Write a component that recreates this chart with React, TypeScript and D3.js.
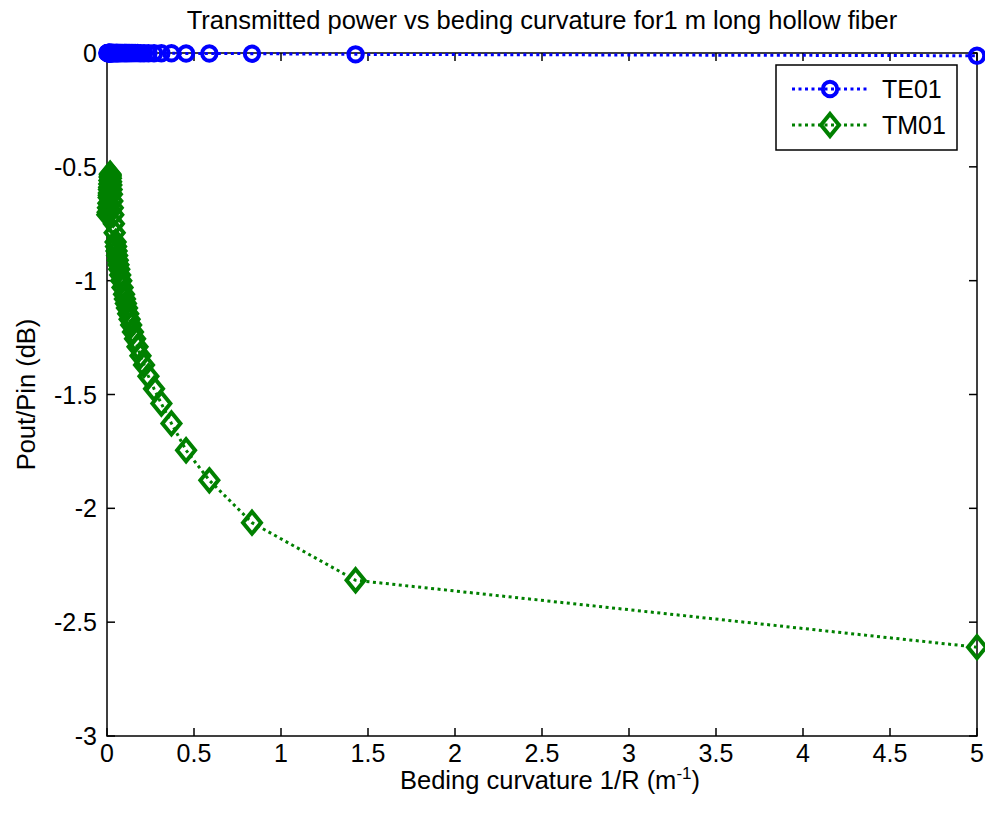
import React from "react";
import * as d3 from "d3";

const curvature = [
  0.002, 0.004, 0.006, 0.008, 0.01, 0.0105, 0.0111, 0.0117, 0.0125, 0.0133,
  0.0142, 0.0153, 0.0166, 0.0181, 0.0199, 0.021, 0.0221, 0.0234, 0.0249, 0.0265,
  0.0284, 0.0306, 0.0331, 0.0361, 0.0397, 0.0441, 0.0495, 0.0521, 0.0549, 0.0581,
  0.0617, 0.0658, 0.0704, 0.0758, 0.082, 0.0893, 0.098, 0.1031, 0.1087, 0.1149,
  0.122, 0.1299, 0.1389, 0.1493, 0.1613, 0.1754, 0.1923, 0.2128, 0.2381, 0.2703,
  0.3125, 0.3704, 0.4545, 0.5882, 0.8333, 1.4286, 5,
];

const te01 = [
  0, 0, 0, 0, 0, 0, 0, 0, 0, 0,
  0, 0, 0, 0, 0, 0, 0, 0, 0, 0,
  0, 0, 0, 0, 0, 0, 0, 0, 0, 0,
  0, 0, 0, 0, 0, 0, 0, 0, 0, 0,
  0, 0, 0, 0, 0, 0, -0.001, -0.001, -0.001, -0.001,
  -0.001, -0.001, -0.002, -0.002, -0.003, -0.006, -0.012,
];

const tm01 = [
  -0.71, -0.7, -0.68, -0.66, -0.635, -0.625, -0.615, -0.6, -0.59, -0.575,
  -0.56, -0.545, -0.535, -0.53, -0.535, -0.54, -0.55, -0.565, -0.58, -0.6,
  -0.62, -0.65, -0.68, -0.71, -0.75, -0.79, -0.83, -0.85, -0.87, -0.89,
  -0.91, -0.93, -0.95, -0.975, -1.0, -1.03, -1.06, -1.08, -1.1, -1.12,
  -1.145, -1.17, -1.195, -1.225, -1.255, -1.29, -1.33, -1.37, -1.42, -1.475,
  -1.54, -1.627, -1.745, -1.877, -2.063, -2.316, -2.61,
];

const xTicks = [0, 0.5, 1, 1.5, 2, 2.5, 3, 3.5, 4, 4.5, 5];
const yTicks = [0, -0.5, -1, -1.5, -2, -2.5, -3];
const seriesNames = ["TE01", "TM01"];
const title = "Transmitted power vs beding curvature for1  m long hollow fiber";

const W = 985;
const H = 819;
const L = 107;
const R = 977;
const T = 53;
const B = 736;
const FONT = "'Liberation Sans', Arial, Helvetica, sans-serif";
const BLUE = "#0000ff";
const GREEN = "#008000";

function Diamond({ cx, cy, color }: { cx: number; cy: number; color: string }) {
  const w = 9, h = 11;
  return (
    <path
      d={`M${cx},${cy - h}L${cx + w},${cy}L${cx},${cy + h}L${cx - w},${cy}Z`}
      fill="none"
      stroke={color}
      strokeWidth={4}
    />
  );
}

function Circle({ cx, cy, color }: { cx: number; cy: number; color: string }) {
  return <circle cx={cx} cy={cy} r={7.2} fill="none" stroke={color} strokeWidth={4} />;
}

export default function App() {
  const x = d3.scaleLinear().domain([0, 5]).range([L, R]);
  const y = d3.scaleLinear().domain([-3, 0]).range([B, T]);
  const line = d3
    .line<number>()
    .x((_, i) => x(curvature[i]))
    .y((d) => y(d));
  const fmt = (v: number) => String(v);
  const tickLen = 8;

  return (
    <svg
      width={W}
      height={H}
      style={{ position: "absolute", left: 0, top: 0, background: "#fff" }}
      fontFamily={FONT}
    >
      <rect x={0} y={0} width={W} height={H} fill="#fff" />
      <rect x={L} y={T} width={R - L} height={B - T} fill="none" stroke="#000" strokeWidth={1.5} />
      {xTicks.map((t) => (
        <g key={"x" + t}>
          <line x1={x(t)} x2={x(t)} y1={B} y2={B - tickLen} stroke="#000" strokeWidth={1.5} />
          <line x1={x(t)} x2={x(t)} y1={T} y2={T + tickLen} stroke="#000" strokeWidth={1.5} />
          <text x={x(t)} y={762} textAnchor="middle" fontSize={25} fill="#000">
            {fmt(t)}
          </text>
        </g>
      ))}
      {yTicks.map((t) => (
        <g key={"y" + t}>
          <line x1={L} x2={L + tickLen} y1={y(t)} y2={y(t)} stroke="#000" strokeWidth={1.5} />
          <line x1={R} x2={R - tickLen} y1={y(t)} y2={y(t)} stroke="#000" strokeWidth={1.5} />
          <text x={97} y={y(t) + 9} textAnchor="end" fontSize={25} fill="#000">
            {fmt(t)}
          </text>
        </g>
      ))}
      <text x={(L + R) / 2} y={29} textAnchor="middle" fontSize={25.5} fill="#000">
        {title}
      </text>
      <text x={(L + R) / 2 + 8} y={789} textAnchor="middle" fontSize={25.5} fill="#000">
        Beding curvature 1/R (m
        <tspan dy={-10} fontSize={17}>-1</tspan>
        <tspan dy={10}>)</tspan>
      </text>
      <text
        transform={`translate(35,${(T + B) / 2}) rotate(-90)`}
        textAnchor="middle"
        fontSize={25.5}
        fill="#000"
      >
        Pout/Pin (dB)
      </text>

      <path d={line(tm01) || ""} fill="none" stroke={GREEN} strokeWidth={3} strokeDasharray="3 3.5" />
      {tm01.map((v, i) => (
        <Diamond key={"tm" + i} cx={x(curvature[i])} cy={y(v)} color={GREEN} />
      ))}
      <path d={line(te01) || ""} fill="none" stroke={BLUE} strokeWidth={3} strokeDasharray="3 3.5" />
      {te01.map((v, i) => (
        <Circle key={"te" + i} cx={x(curvature[i])} cy={y(v)} color={BLUE} />
      ))}

      <rect x={776} y={65} width={181} height={85} fill="#fff" stroke="#000" strokeWidth={1.5} />
      {seriesNames.map((name, i) => {
        const ly = i === 0 ? 89 : 125;
        const c = i === 0 ? BLUE : GREEN;
        return (
          <g key={name}>
            <line x1={792} x2={867} y1={ly} y2={ly} stroke={c} strokeWidth={3} strokeDasharray="3 3.5" />
            {i === 0 ? <Circle cx={830} cy={ly} color={c} /> : <Diamond cx={830} cy={ly} color={c} />}
            <text x={882} y={ly + 9} fontSize={25} fill="#000">
              {name}
            </text>
          </g>
        );
      })}
    </svg>
  );
}
